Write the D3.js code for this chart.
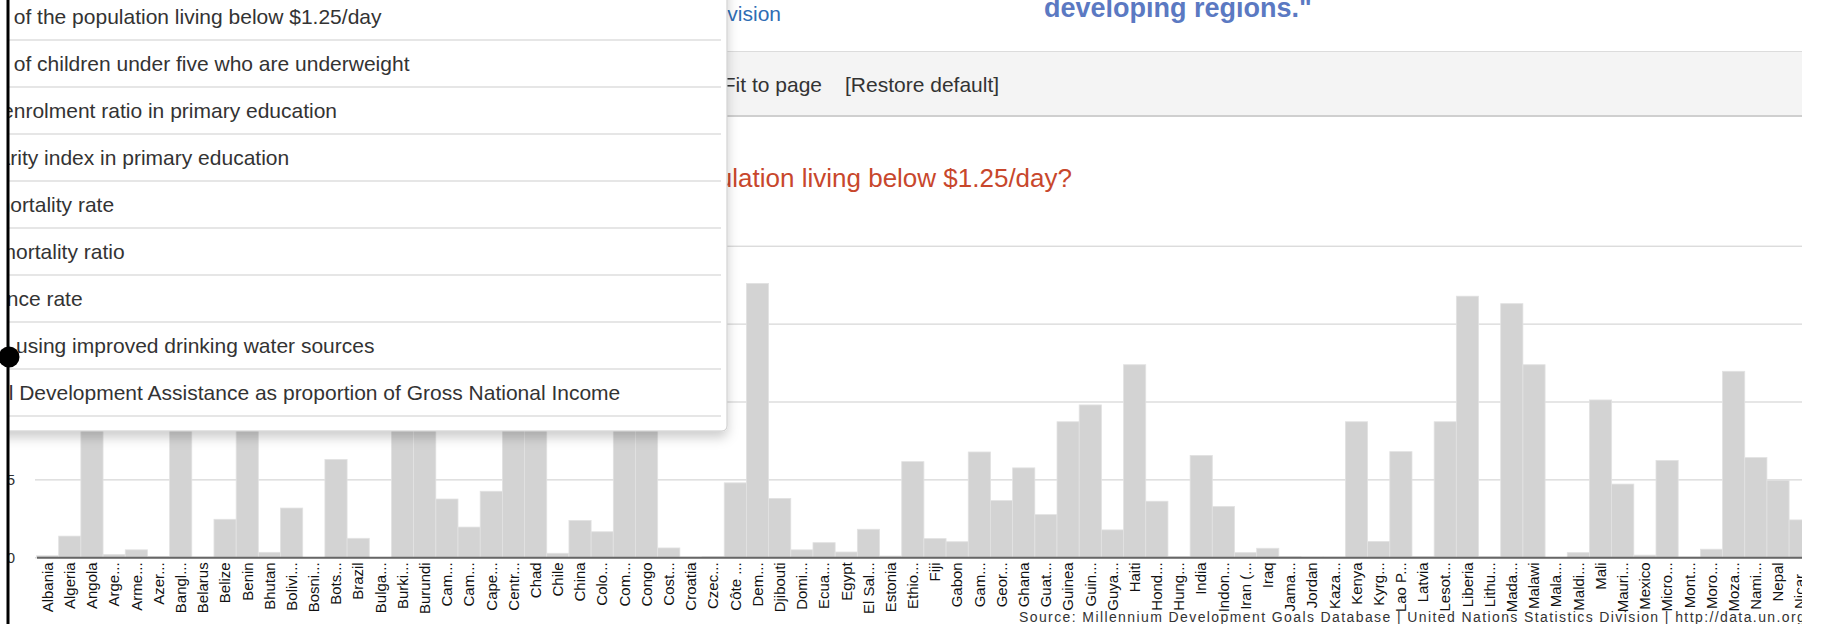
<!DOCTYPE html>
<html>
<head>
<meta charset="utf-8">
<script src="https://cdn.jsdelivr.net/npm/d3@7"></script>
<style>
  html, body { margin: 0; padding: 0; background: #fff; overflow: hidden; }
  svg { display: block; font-family: "Liberation Sans", Arial, sans-serif; }
</style>
</head>
<body>
<svg id="page" width="1823" height="624"></svg>
<script>
// ---- data (bars hidden under the menu estimated) ----
const countries = ["Albania","Algeria","Angola","Argentina","Armenia","Azerbaijan","Bangladesh","Belarus","Belize","Benin",
  "Bhutan","Bolivia","Bosnia and Herzegovina","Botswana","Brazil","Bulgaria","Burkina Faso","Burundi","Cambodia","Cameroon",
  "Cape Verde","Central African Republic","Chad","Chile","China","Colombia","Comoros","Congo","Costa Rica","Croatia",
  "Czech Republic","Côte d'Ivoire","Democratic Republic of the Congo","Djibouti","Dominican Republic","Ecuador","Egypt","El Salvador","Estonia","Ethiopia",
  "Fiji","Gabon","Gambia","Georgia","Ghana","Guatemala","Guinea","Guinea-Bissau","Guyana","Haiti",
  "Honduras","Hungary","India","Indonesia","Iran (Islamic Republic of)","Iraq","Jamaica","Jordan","Kazakhstan","Kenya",
  "Kyrgyzstan","Lao People's Democratic Republic","Latvia","Lesotho","Liberia","Lithuania","Madagascar","Malawi","Malaysia","Maldives",
  "Mali","Mauritania","Mexico","Micronesia (Federated States of)","Montenegro","Morocco","Mozambique","Namibia","Nepal","Nicaragua"];

const tickLabels = ["Albania","Algeria","Angola","Arge...","Arme...","Azer...","Bangl...","Belarus","Belize","Benin",
  "Bhutan","Bolivi...","Bosni...","Bots...","Brazil","Bulga...","Burki...","Burundi","Cam...","Cam...",
  "Cape...","Centr...","Chad","Chile","China","Colo...","Com...","Congo","Cost...","Croatia",
  "Czec...","Côte ...","Dem...","Djibouti","Domi...","Ecua...","Egypt","El Sal...","Estonia","Ethio...",
  "Fiji","Gabon","Gam...","Geor...","Ghana","Guat...","Guinea","Guin...","Guya...","Haiti",
  "Hond...","Hung...","India","Indon...","Iran (...","Iraq","Jama...","Jordan","Kaza...","Kenya",
  "Kyrg...","Lao P...","Latvia","Lesot...","Liberia","Lithu...","Mada...","Malawi","Mala...","Maldi...",
  "Mali","Mauri...","Mexico","Micro...","Mont...","Moro...","Moza...","Nami...","Nepal","Nicar..."];

const poverty = [0.5, 6.8, 43.4, 0.9, 2.4, 0.3, 43.3, 0.1, 12.2, 47.3,
  1.6, 15.8, 0.0, 31.4, 6.1, 0.0, 44.6, 81.3, 18.7, 9.7,
  21.2, 62.8, 61.9, 1.3, 11.8, 8.2, 46.1, 54.1, 3.0, 0.1,
  0.2, 23.9, 87.9, 18.9, 2.4, 4.7, 1.7, 9.0, 0.4, 30.7,
  6.0, 5.0, 33.8, 18.2, 28.7, 13.7, 43.5, 48.9, 8.8, 61.8,
  18.0, 0.2, 32.7, 16.3, 1.5, 2.9, 0.2, 0.1, 0.1, 43.5,
  5.1, 33.9, 0.2, 43.5, 83.8, 0.2, 81.4, 61.8, 0.0, 1.5,
  50.5, 23.5, 0.7, 31.1, 0.1, 2.6, 59.7, 32.0, 24.7, 12.0];

const yTicks = [0, 25, 50, 75, 100];

// menu entries: [part scrolled out of view, visible part]
const menuItems = [
  ["Proportion ", "of the population living below $1.25/day"],
  ["Proportion ", "of children under five who are underweight"],
  ["Total, net ", "enrolment ratio in primary education"],
  ["Gender pa", "rity index in primary education"],
  ["Under-5 m", "ortality rate"],
  ["Maternal ", "mortality ratio"],
  ["HIV incide", "nce rate"],
  ["Population ", "using improved drinking water sources"],
  ["Net Officia", "l Development Assistance as proportion of Gross National Income"]
];

const titleText = "What is the proportion of the population living below $1.25/day?";
const sourceText = "Source: Millennium Development Goals Database | United Nations Statistics Division | http://data.un.org";

// ---- layout ----
const W = 1823, H = 624;
const plotRight = 1802;
const svg = d3.select("#page");

const defs = svg.append("defs");
defs.append("filter").attr("id", "menuShadow")
    .attr("x", "-5%").attr("y", "-5%").attr("width", "115%").attr("height", "115%")
  .append("feDropShadow").attr("dx", 0).attr("dy", 6).attr("stdDeviation", 6)
    .attr("flood-color", "#000").attr("flood-opacity", 0.2);
defs.append("clipPath").attr("id", "pageClip")
  .append("rect").attr("x", 0).attr("y", 0).attr("width", plotRight).attr("height", H);

const pageG = svg.append("g").attr("clip-path", "url(#pageClip)");

// header bits peeking out from behind the menu
pageG.append("text").attr("x", 781).attr("y", 21).attr("text-anchor", "end")
  .attr("font-size", 21).attr("fill", "#2f6db4").text("United Nations Statistics Division");
pageG.append("text").attr("x", 1044).attr("y", 17)
  .attr("font-size", 27).attr("font-weight", "bold").attr("fill", "#5b79c2").text("developing regions.\"");

// toolbar
pageG.append("rect").attr("x", 0).attr("y", 51.5).attr("width", plotRight).attr("height", 64.5).attr("fill", "#f4f4f4");
pageG.append("line").attr("x1", 0).attr("x2", plotRight).attr("y1", 51.5).attr("y2", 51.5).attr("stroke", "#dcdcdc");
pageG.append("line").attr("x1", 0).attr("x2", plotRight).attr("y1", 116).attr("y2", 116).attr("stroke", "#cfcfcf").attr("stroke-width", 2);
pageG.append("text").attr("x", 822).attr("y", 92).attr("text-anchor", "end")
  .attr("font-size", 21).attr("fill", "#333").text("Fit to page");
pageG.append("text").attr("x", 845).attr("y", 92)
  .attr("font-size", 21).attr("fill", "#333").text("[Restore default]");

// question title
pageG.append("text").attr("x", 1072).attr("y", 187).attr("text-anchor", "end")
  .attr("font-size", 26).attr("fill", "#c8472c").text(titleText);

// ---- chart ----
const x = d3.scaleBand().domain(countries)
  .range([36.5, 36.5 + countries.length * 22.185]).padding(0);
const y = d3.scaleLinear().domain([0, 100]).range([557.3, 245.7]);

const chart = pageG.append("g");

const gy = chart.append("g").attr("transform", "translate(35,0)")
  .call(d3.axisLeft(y).tickValues(yTicks).tickSize(-(plotRight - 35)).tickPadding(20));
gy.select(".domain").remove();
gy.selectAll(".tick line").attr("stroke", "#cdcdcd");
gy.selectAll(".tick text").attr("font-size", 15).attr("fill", "#333").attr("font-family", null);

chart.append("g").selectAll("rect").data(poverty).join("rect")
  .attr("x", (d, i) => x(countries[i]))
  .attr("y", d => y(d))
  .attr("width", x.bandwidth())
  .attr("height", d => y(0) - y(d))
  .attr("fill", "#d3d3d3")
  .attr("stroke", "#e2e2e2")
  .attr("stroke-width", 0.8);

const gx = chart.append("g").attr("transform", `translate(0,${y(0)})`)
  .call(d3.axisBottom(x).tickSize(0).tickSizeOuter(0).tickFormat((d, i) => tickLabels[i]));
gx.select(".domain").attr("stroke", "#666").attr("stroke-width", 2);
gx.selectAll(".tick text")
  .attr("font-size", 15).attr("fill", "#111").attr("font-family", null)
  .attr("transform", "rotate(-90)")
  .attr("x", -5).attr("y", 0).attr("dy", "0.35em")
  .attr("text-anchor", "end");

pageG.append("text").attr("x", 1019).attr("y", 622)
  .attr("font-size", 14).attr("letter-spacing", 1.4).attr("fill", "#333").text(sourceText);

// ---- open dropdown menu on top ----
const menu = svg.append("g");
menu.append("rect").attr("x", -20).attr("y", -20).attr("width", 747).attr("height", 451)
  .attr("rx", 5).attr("fill", "#fff").attr("stroke", "#c9c9c9")
  .attr("filter", "url(#menuShadow)");
const rowH = 47;
menu.selectAll("line.sep").data(menuItems).join("line").attr("class", "sep")
  .attr("x1", -20).attr("x2", 721)
  .attr("y1", (d, i) => 40 + i * rowH).attr("y2", (d, i) => 40 + i * rowH)
  .attr("stroke", "#e6e6e6").attr("stroke-width", 2);
menu.selectAll("text.item").data(menuItems).join("text").attr("class", "item")
  .attr("x", -89).attr("y", (d, i) => 24 + i * rowH)
  .attr("font-size", 21).attr("fill", "#333")
  .text(d => d[0] + d[1]);

// ---- left edge: blank margin, divider line and handle ----
svg.append("rect").attr("x", 0).attr("y", 0).attr("width", 7).attr("height", H).attr("fill", "#fff");
svg.append("line").attr("x1", 8).attr("x2", 8).attr("y1", 0).attr("y2", H)
  .attr("stroke", "#000").attr("stroke-width", 3);
svg.append("circle").attr("cx", 9).attr("cy", 357).attr("r", 10.5).attr("fill", "#000");
</script>
</body>
</html>
